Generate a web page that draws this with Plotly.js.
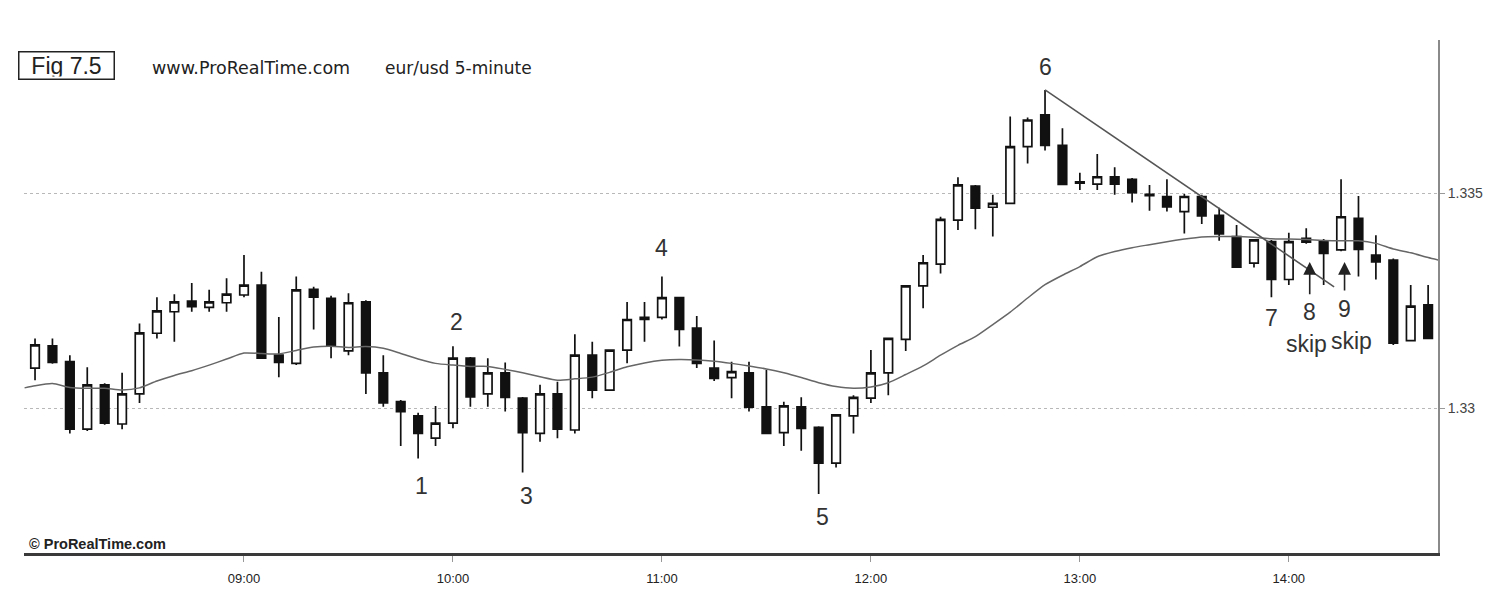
<!DOCTYPE html>
<html>
<head>
<meta charset="utf-8">
<script src="https://cdn.plot.ly/plotly-3.0.1.min.js"></script>
<style>
html,body{margin:0;padding:0;background:#fff;}
#chart{width:1492px;height:602px;}
</style>
</head>
<body>
<div id="chart"></div>
<script>
// ---- data (eur/usd 5-minute) ----
var times = ["08:00","08:05","08:10","08:15","08:20","08:25","08:30","08:35","08:40","08:45","08:50","08:55",
"09:00","09:05","09:10","09:15","09:20","09:25","09:30","09:35","09:40","09:45","09:50","09:55",
"10:00","10:05","10:10","10:15","10:20","10:25","10:30","10:35","10:40","10:45","10:50","10:55",
"11:00","11:05","11:10","11:15","11:20","11:25","11:30","11:35","11:40","11:45","11:50","11:55",
"12:00","12:05","12:10","12:15","12:20","12:25","12:30","12:35","12:40","12:45","12:50","12:55",
"13:00","13:05","13:10","13:15","13:20","13:25","13:30","13:35","13:40","13:45","13:50","13:55",
"14:00","14:05","14:10","14:15","14:20","14:25","14:30","14:35","14:40"];

var opens = [1.33094,1.33146,1.33109,1.32952,1.33055,1.32964,1.33034,1.33175,1.33225,1.33250,1.33235,1.33246,
1.33264,1.33287,1.33124,1.33105,1.33277,1.33256,1.33134,1.33248,1.33083,1.33016,1.32983,1.32931,
1.32966,1.33117,1.33034,1.33083,1.33024,1.32942,1.33034,1.32950,1.33124,1.33043,1.33136,1.33212,
1.33212,1.33258,1.33187,1.33094,1.33072,1.33083,1.33004,1.32944,1.33004,1.32956,1.32873,1.32983,
1.33024,1.33083,1.33161,1.33285,1.33336,1.33438,1.33517,1.33468,1.33477,1.33609,1.33683,1.33612,
1.33527,1.33522,1.33539,1.33533,1.33498,1.33493,1.33458,1.33493,1.33449,1.33400,1.33338,1.33388,
1.33300,1.33396,1.33390,1.33369,1.33442,1.33357,1.33345,1.33158,1.33241];

var highs = [1.33163,1.33163,1.33124,1.33096,1.33059,1.33083,1.33198,1.33259,1.33266,1.33292,1.33276,1.33303,
1.33357,1.33318,1.33213,1.33307,1.33283,1.33262,1.33268,1.33252,1.33124,1.33020,1.32990,1.33006,
1.33145,1.33120,1.33117,1.33107,1.33027,1.33055,1.33062,1.33173,1.33155,1.33138,1.33248,1.33248,
1.33307,1.33260,1.33215,1.33158,1.33109,1.33109,1.33090,1.33016,1.33026,1.32959,1.32987,1.33031,
1.33136,1.33165,1.33287,1.33357,1.33446,1.33538,1.33520,1.33497,1.33679,1.33677,1.33741,1.33652,
1.33548,1.33592,1.33561,1.33536,1.33520,1.33533,1.33499,1.33497,1.33467,1.33427,1.33394,1.33392,
1.33409,1.33419,1.33394,1.33533,1.33494,1.33403,1.33349,1.33287,1.33287];

var lows = [1.33066,1.33104,1.32942,1.32948,1.32962,1.32952,1.33013,1.33163,1.33155,1.33225,1.33225,1.33225,
1.33259,1.33115,1.33073,1.33101,1.33184,1.33117,1.33124,1.33034,1.33004,1.32913,1.32884,1.32913,
1.32954,1.33004,1.33004,1.32993,1.32851,1.32923,1.32931,1.32942,1.33024,1.33041,1.33105,1.33155,
1.33207,1.33144,1.33094,1.33064,1.33024,1.32993,1.32940,1.32913,1.32902,1.32801,1.32863,1.32942,
1.33013,1.33031,1.33134,1.33233,1.33314,1.33415,1.33417,1.33400,1.33475,1.33570,1.33600,1.33520,
1.33508,1.33508,1.33497,1.33479,1.33460,1.33458,1.33407,1.33429,1.33390,1.33328,1.33328,1.33259,
1.33287,1.33383,1.33287,1.33366,1.33307,1.33300,1.33148,1.33156,1.33161];

var closes = [1.33148,1.33107,1.32952,1.33055,1.32966,1.33034,1.33176,1.33227,1.33248,1.33237,1.33248,1.33266,
1.33287,1.33117,1.33107,1.33276,1.33259,1.33145,1.33246,1.33083,1.33013,1.32993,1.32942,1.32966,
1.33117,1.33027,1.33083,1.33026,1.32944,1.33034,1.32952,1.33124,1.33043,1.33136,1.33207,1.33207,
1.33258,1.33184,1.33105,1.33070,1.33086,1.33003,1.32942,1.33006,1.32954,1.32873,1.32985,1.33026,
1.33083,1.33163,1.33285,1.33339,1.33440,1.33520,1.33466,1.33477,1.33609,1.33671,1.33612,1.33521,
1.33524,1.33539,1.33522,1.33502,1.33495,1.33469,1.33493,1.33448,1.33406,1.33329,1.33392,1.33300,
1.33388,1.33387,1.33361,1.33446,1.33370,1.33341,1.33152,1.33238,1.33163];

// moving average line (edges of the plot + one value per bar)
var maTimes = ["07:57"].concat(times, ["14:43"]);
var maValues = [1.33048,
1.33053,1.33058,1.33049,1.33047,1.33047,1.33043,1.33048,1.33064,1.33077,1.33088,1.33101,1.33115,
1.33129,1.33128,1.33127,1.33135,1.33143,1.33145,1.33142,1.33144,1.33140,1.33128,1.33115,1.33105,
1.33101,1.33098,1.33098,1.33091,1.33083,1.33074,1.33066,1.33069,1.33073,1.33084,1.33097,1.33106,
1.33112,1.33114,1.33113,1.33110,1.33105,1.33099,1.33092,1.33083,1.33072,1.33060,1.33051,1.33047,
1.33050,1.33060,1.33079,1.33099,1.33124,1.33147,1.33167,1.33195,1.33224,1.33257,1.33288,1.33310,
1.33330,1.33353,1.33365,1.33374,1.33381,1.33388,1.33394,1.33399,1.33400,1.33400,1.33398,1.33395,
1.33394,1.33393,1.33391,1.33390,1.33390,1.33384,1.33371,1.33362,1.33351,
1.33345];

// trend line drawn from the high at point 6
var trendTimes = ["12:50","14:13"];
var trendValues = [1.33741,1.33283];

// labels on the chart
var labelTexts  = ["1","2","3","4","5","6","7","8","9","skip","skip"];
var labelTimes  = ["09:51","10:01","10:21","11:00","11:46","12:50","13:55","14:06","14:16","14:05","14:18"];
var labelPrices = [1.32820,1.33201,1.32797,1.33373,1.32748,1.33794,1.33210,1.33224,1.33231,1.33150,1.33157];

var arrowTimes = ["14:06","14:16"];
var arrowTips  = [1.33341,1.33341];
var arrowTails = [1.33262,1.33271];

var xTickTimes = ["09:00","10:00","11:00","12:00","13:00","14:00"];
var yTickVals  = [1.33,1.335];
var yTickTexts = ["1.33","1.335"];

// ---- build ----
var D = "2024-01-02 ";
function d(t){ return D + t; }

var candle = {
  type: "candlestick",
  x: times.map(d), open: opens, high: highs, low: lows, close: closes,
  increasing: {line: {color: "#111", width: 1.7}, fillcolor: "#ffffff"},
  decreasing: {line: {color: "#111", width: 1.7}, fillcolor: "#111111"},
  whiskerwidth: 0,
  showlegend: false, hoverinfo: "skip"
};
var ma = {
  type: "scatter", mode: "lines",
  x: maTimes.map(d), y: maValues,
  line: {color: "#666", width: 1.5, shape: "spline", smoothing: 0.6},
  showlegend: false, hoverinfo: "skip"
};
var trend = {
  type: "scatter", mode: "lines",
  x: trendTimes.map(d), y: trendValues,
  line: {color: "#555", width: 1.6},
  showlegend: false, hoverinfo: "skip"
};

var anns = [];
for (var i = 0; i < labelTexts.length; i++) {
  anns.push({x: d(labelTimes[i]), y: labelPrices[i], xref: "x", yref: "y",
    text: labelTexts[i], showarrow: false,
    font: {family: "Liberation Sans, Arial, sans-serif", size: 23, color: "#333"}});
}
for (var j = 0; j < arrowTimes.length; j++) {
  anns.push({x: d(arrowTimes[j]), y: arrowTips[j], xref: "x", yref: "y",
    ax: d(arrowTimes[j]), ay: arrowTails[j], axref: "x", ayref: "y",
    text: "", showarrow: true, arrowhead: 2, arrowsize: 1.6, arrowwidth: 1.6, arrowcolor: "#222"});
}
anns.push({xref: "paper", yref: "paper", x: 0.0304, y: 0.951, xanchor: "center", yanchor: "middle",
  text: "Fig 7.5", showarrow: false, width: 90, height: 22,
  font: {family: "Liberation Sans, Arial, sans-serif", size: 23, color: "#222"},
  bordercolor: "#222", borderwidth: 1.5, borderpad: 2, bgcolor: "#fff"});
anns.push({xref: "paper", yref: "paper", x: 0.0891, y: 0.945, xanchor: "left", yanchor: "middle",
  text: "www.ProRealTime.com", showarrow: false,
  font: {family: "DejaVu Sans, sans-serif", size: 17.5, color: "#222"}});
anns.push({xref: "paper", yref: "paper", x: 0.2539, y: 0.945, xanchor: "left", yanchor: "middle",
  text: "eur/usd 5-minute", showarrow: false,
  font: {family: "DejaVu Sans, sans-serif", size: 17, color: "#222"}});
anns.push({xref: "paper", yref: "paper", x: 0.0021, y: 0.018, xanchor: "left", yanchor: "middle",
  text: "<b>© ProRealTime.com</b>", showarrow: false,
  font: {family: "Liberation Sans Narrow, Liberation Sans, Arial, sans-serif", size: 14.5, color: "#222"}});

var layout = {
  width: 1492, height: 602,
  margin: {l: 24, r: 54, t: 40, b: 49},
  paper_bgcolor: "#fff", plot_bgcolor: "#fff",
  xaxis: {
    type: "date", range: [d("07:56:50"), d("14:42:50")],
    rangeslider: {visible: false},
    tickmode: "array", tickvals: xTickTimes.map(d), ticktext: xTickTimes,
    ticks: "outside", ticklen: 6, tickcolor: "#999", tickwidth: 1,
    ticklabelstandoff: 6,
    showgrid: false, zeroline: false,
    showline: true, linecolor: "#3a3a3a", linewidth: 2.5,
    tickfont: {family: "Liberation Sans, Arial, sans-serif", size: 13, color: "#222"},
    fixedrange: true
  },
  yaxis: {
    side: "right", range: [1.32664, 1.33857],
    tickvals: yTickVals, ticktext: yTickTexts,
    ticks: "outside", ticklen: 5, tickcolor: "#999",
    showgrid: true, gridcolor: "#b8b8b8", griddash: "dot", gridwidth: 1,
    zeroline: false, showline: true, linecolor: "#8a8a8a", linewidth: 2,
    tickfont: {family: "Liberation Sans, Arial, sans-serif", size: 14, color: "#444"},
    fixedrange: true
  },
  annotations: anns,
  showlegend: false
};

Plotly.newPlot("chart", [ma, trend, candle], layout, {displayModeBar: false, staticPlot: true});
</script>
</body>
</html>
